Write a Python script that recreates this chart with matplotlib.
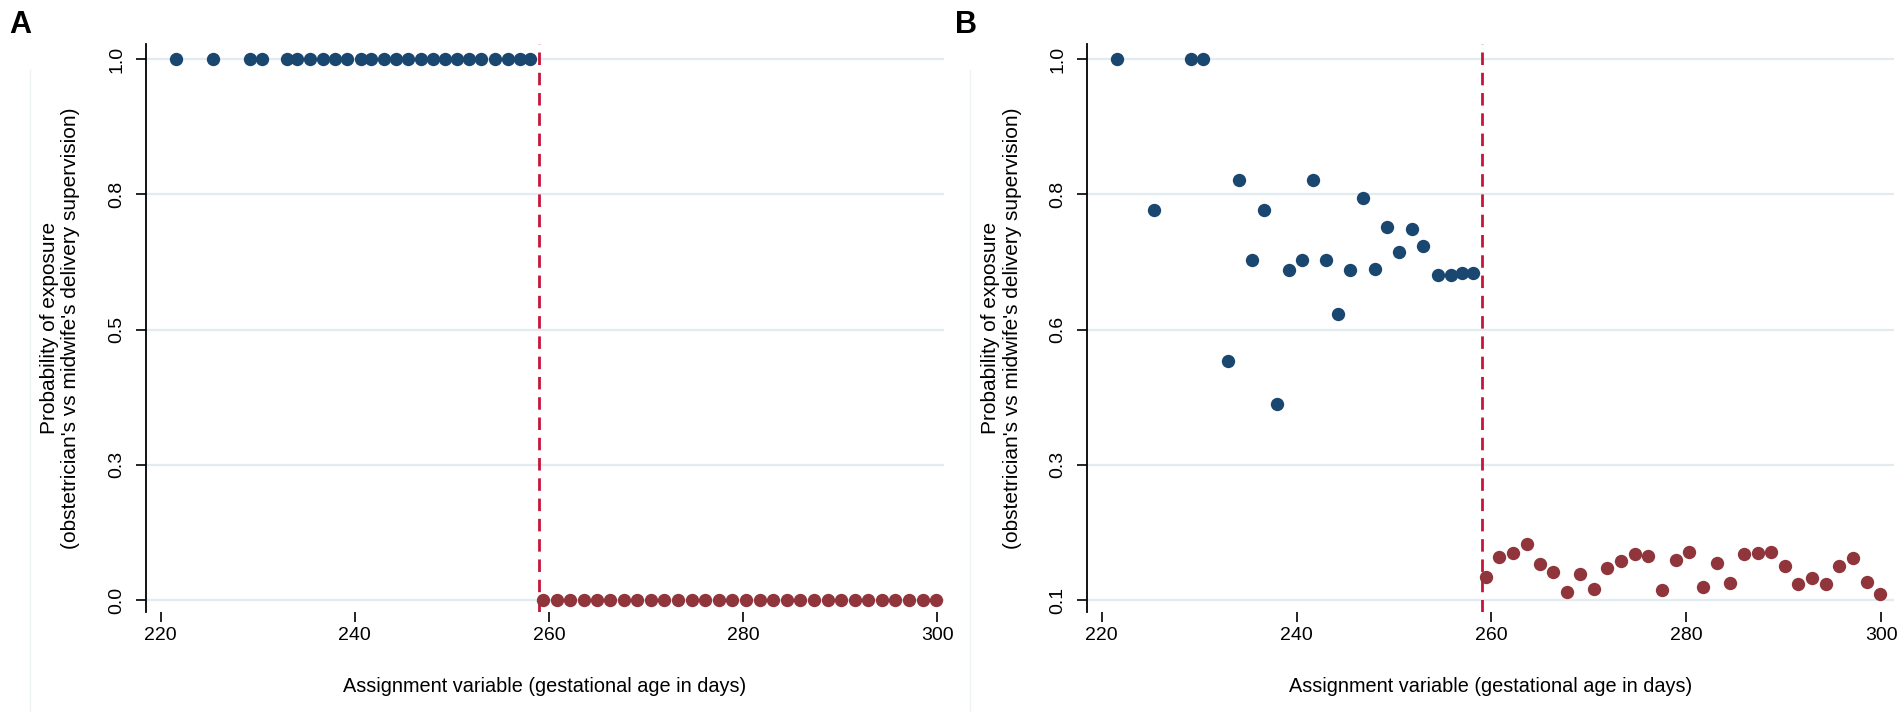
import matplotlib
matplotlib.use("Agg")
import matplotlib.pyplot as plt
from matplotlib.lines import Line2D

plt.rcParams['font.family'] = ['Liberation Sans', 'DejaVu Sans']

# gestational age bins (days) below / above the cut-off
days_below = [221.6, 225.4, 229.2, 230.4, 233.0, 234.1, 235.4, 236.7, 238.0, 239.2,
              240.6, 241.7, 243.0, 244.3, 245.5, 246.8, 248.1, 249.3, 250.5, 251.8,
              253.0, 254.5, 255.8, 257.0, 258.1]
days_above = [259.4, 260.8, 262.2, 263.6, 265.0, 266.3, 267.7, 269.1, 270.5, 271.9,
              273.3, 274.7, 276.1, 277.5, 278.9, 280.3, 281.7, 283.1, 284.5, 285.9,
              287.3, 288.7, 290.1, 291.5, 292.9, 294.3, 295.7, 297.1, 298.5, 299.9]

# panel A: assignment (sharp)
assign_below = [1.0] * len(days_below)
assign_above = [0.0] * len(days_above)

# panel B: observed probability of exposure
prob_below = [1.0, 0.749, 1.0, 1.0, 0.497, 0.799, 0.666, 0.749, 0.426, 0.649,
              0.666, 0.799, 0.666, 0.576, 0.649, 0.769, 0.651, 0.721, 0.679, 0.717,
              0.689, 0.640, 0.640, 0.644, 0.644]
prob_above = [0.138, 0.171, 0.178, 0.193, 0.160, 0.146, 0.113, 0.143, 0.118, 0.154,
              0.165, 0.176, 0.174, 0.116, 0.166, 0.180, 0.121, 0.162, 0.128, 0.176,
              0.178, 0.180, 0.156, 0.126, 0.136, 0.126, 0.156, 0.170, 0.130, 0.110]

cutoff = 259
xticks = [220, 240, 260, 280, 300]
yticks_a = [0.0, 0.25, 0.5, 0.75, 1.0]
ylabels_a = ['0.0', '0.3', '0.5', '0.8', '1.0']
yticks_b = [0.1, 0.325, 0.55, 0.775, 1.0]
ylabels_b = ['0.1', '0.3', '0.6', '0.8', '1.0']

navy = '#1A476F'
maroon = '#90353B'
red = '#C8143A'
grid = '#E2EBEE'

W, H = 1901, 712
fig = plt.figure(figsize=(W / 100, H / 100), dpi=100)

ylab = "Probability of exposure\n(obstetrician's vs midwife's delivery supervision)"
xlab = "Assignment variable (gestational age in days)"


def make_panel(left_px, right_px, xlim, ylim, yt, yl, yb, ya, letter, letter_x):
    ax = fig.add_axes([left_px / W, (H - 612) / H, (right_px - left_px) / W, 568 / H])
    for y in yt:
        ax.axhline(y, color=grid, lw=1.6, zorder=0)
    ax.axvline(cutoff, color=red, lw=2.0, dashes=(4.5, 2.8), zorder=3)
    ax.plot(days_below, yb, 'o', color=navy, ms=9.6, mec='none', zorder=4)
    ax.plot(days_above, ya, 'o', color=maroon, ms=9.6, mec='none', zorder=4)
    ax.set_xlim(*xlim)
    ax.set_ylim(*ylim)
    ax.set_xticks(xticks)
    ax.set_xticklabels([str(t) for t in xticks], fontsize=14)
    ax.set_yticks(yt)
    ax.set_yticklabels(yl, fontsize=14, rotation=90, va='center')
    ax.tick_params(axis='y', length=7, width=1.2, pad=8)
    ax.tick_params(axis='x', length=7, width=1.2, pad=4)
    for s in ['top', 'right', 'bottom']:
        ax.spines[s].set_visible(False)
    ax.spines['left'].set_linewidth(1.3)
    w = right_px - left_px
    ax.text(-86 / w, 0.5, ylab, transform=ax.transAxes, rotation=90, ha='center',
            va='center', multialignment='center', fontsize=15, linespacing=1.2)
    ax.text(0.5, -74 / 568, xlab, transform=ax.transAxes, ha='center', va='center',
            fontsize=14.3)
    fig.text(letter_x / W, 1 - 10 / H, letter, fontsize=22, fontweight='bold', va='top')
    return ax


axA = make_panel(146, 944, (218.5, 300.7), (-0.022, 1.028), yticks_a, ylabels_a,
                 assign_below, assign_above, 'A', 9)
axB = make_panel(1087, 1894, (218.5, 301.3), (0.080, 1.025), yticks_b, ylabels_b,
                 prob_below, prob_above, 'B', 955)

# faint borders of the combined sub-graphs
for xp in [30, 970]:
    fig.add_artist(Line2D([xp / W, xp / W], [1 - 70 / H, 0.0], color='#EEF3F5', lw=1.0))

fig.savefig('out.png', dpi=100)
